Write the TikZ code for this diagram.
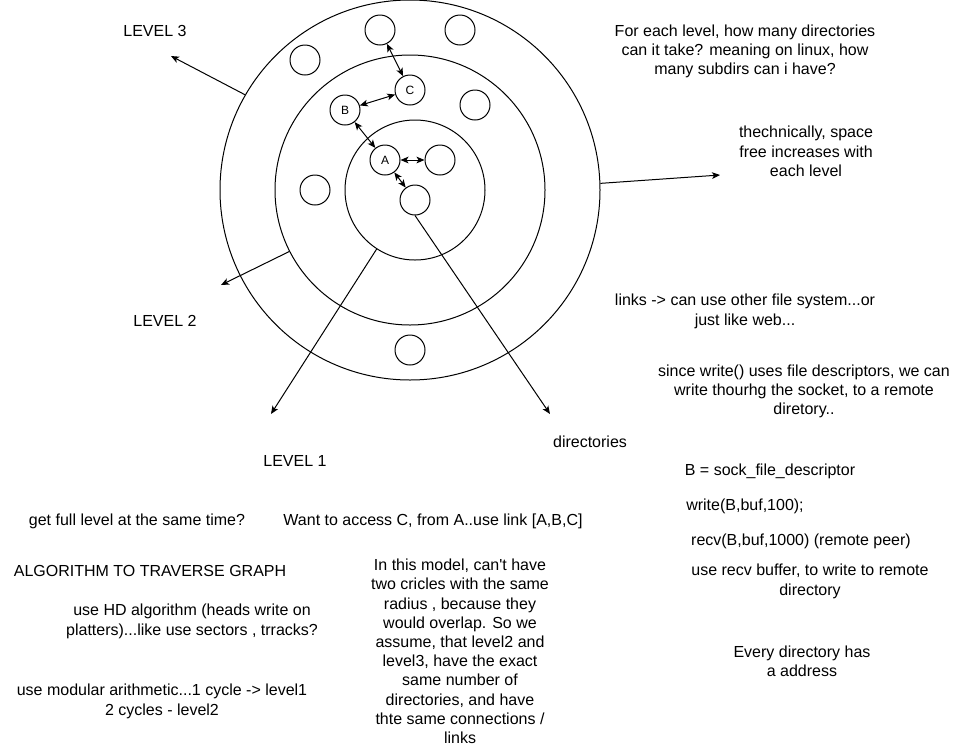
\documentclass[tikz,border=0pt]{standalone}
\usepackage{fontspec}
\setmainfont{Liberation Sans}
\usetikzlibrary{arrows.meta}
\begin{document}
\begin{tikzpicture}[x=0.75pt,y=-0.75pt,
  line width=0.75pt,
  ring/.style={draw,circle,inner sep=0pt},
  dot/.style={draw,circle,inner sep=0pt,minimum size=22.5pt,font=\fontsize{9pt}{10.8pt}\selectfont},
  txt/.style={align=center,inner sep=0pt,yshift=-1pt,font=\fontsize{12pt}{14.4pt}\selectfont},
  arr/.style={-{Stealth[length=6pt,width=5pt,inset=1.5pt]}},
  barr/.style={{Stealth[length=6pt,width=5pt,inset=1.5pt]}-{Stealth[length=6pt,width=5pt,inset=1.5pt]}}]
\useasboundingbox (0,0) rectangle (960,747);
% rings
\node[ring,minimum size=285pt] (outer) at (410,190) {};
\node[ring,minimum size=202.5pt] (middle) at (410,190) {};
\node[ring,minimum size=105pt] (inner) at (415,190) {};
% directories
\node[dot] (t1) at (380,30) {};
\node[dot] (t2) at (460,30) {};
\node[dot] (t3) at (305,60) {};
\node[dot] (C) at (410,90) {C};
\node[dot] (r1) at (475,105) {};
\node[dot] (B) at (345,110) {B};
\node[dot] (A) at (385,160) {A};
\node[dot] (a1) at (440,160) {};
\node[dot] (l1) at (315,190) {};
\node[dot] (a2) at (415,200) {};
\node[dot] (b1) at (410,350) {};
% links
\draw[barr] (t1) -- (C);
\draw[barr] (B) -- (C);
\draw[barr] (B) -- (A);
\draw[barr] (A) -- (a1);
\draw[barr] (A) -- (a2);
% pointers
\coordinate (e3) at (171,56);
\coordinate (e2) at (221,285);
\coordinate (er) at (720,175);
\coordinate (e1) at (271,414);
\coordinate (ed) at (550,414);
\draw[arr] (outer.150.6) -- (e3);
\draw[arr] (middle.207.5) -- (e2);
\draw[arr] (outer.2.7) -- (er);
\draw[arr] (inner.237.6) -- (e1);
\draw[arr] (a2.south) -- (ed);
% texts
\node[txt] (lv3) at (155,30) {LEVEL 3};
\node[txt] (lv2) at (165,320) {LEVEL 2};
\node[txt] (lv1) at (295,460) {LEVEL 1};
\node[txt] (dirs) at (590,440) {directories};
\node[txt] (q1) at (745,50) {For each level, how many directories\\can it take? meaning on linux, how\\many subdirs can i have?};
\node[txt] (q2) at (806,150) {thechnically, space\\free increases with\\each level};
\node[txt] (q3) at (745,310) {links -> can use other file system...or\\just like web...};
\node[txt] (q4) at (804,390) {since write() uses file descriptors, we can\\write thourhg the socket, to a remote\\diretory..};
\node[txt] (c1) at (770,470) {B = sock\_file\_descriptor};
\node[txt] (c2) at (745,505) {write(B,buf,100);};
\node[txt] (c3) at (801,540) {recv(B,buf,1000) (remote peer)};
\node[txt] (c4) at (810,580) {use recv buffer, to write to remote\\directory};
\node[txt] (c5) at (802,660) {Every directory has\\a address};
\node[txt] (g1) at (137,520) {get full level at the same time?};
\node[txt] (g2) at (433,520) {Want to access C, from A..use link [A,B,C]};
\node[txt] (g3) at (150,570) {ALGORITHM TO TRAVERSE GRAPH};
\node[txt] (g4) at (192,620) {use HD algorithm (heads write on\\platters)...like use sectors , trracks?};
\node[txt] (g5) at (162,700) {use modular arithmetic...1 cycle -> level1\\2 cycles - level2};
\node[txt] (m1) at (460,650) {In this model, can\textquotesingle t have\\two cricles with the same\\radius , because they\\would overlap. So we\\assume, that level2 and\\level3, have the exact\\same number of\\directories, and have\\thte same connections /\\links};
\end{tikzpicture}
\end{document}
